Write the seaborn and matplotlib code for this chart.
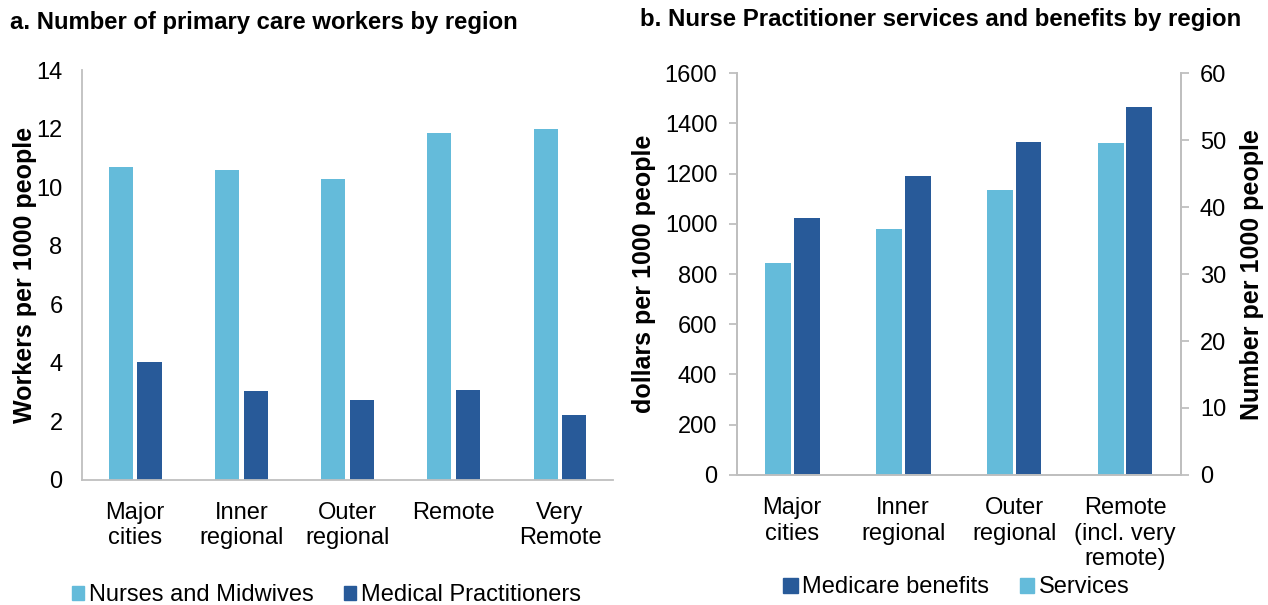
import matplotlib
matplotlib.use("Agg")
import matplotlib.pyplot as plt
import matplotlib.colors as mcolors
import numpy as np
import pandas as pd
import seaborn as sns
from matplotlib.patches import Patch

sns.set_style("white")
plt.rcParams["font.family"] = ["Liberation Sans", "DejaVu Sans"]
plt.rcParams.update({"text.color": "black", "axes.labelcolor": "black",
                     "xtick.color": "black", "ytick.color": "black"})

LIGHT = "#64BBDA"
DARK = "#285A99"
GREY = "#BFBFBF"

# panel a data
regions_a = ["Major\ncities", "Inner\nregional", "Outer\nregional", "Remote", "Very\nRemote"]
nurses = [10.7, 10.6, 10.27, 11.85, 12.0]
medical = [4.03, 3.02, 2.73, 3.08, 2.23]

# panel b data
regions_b = ["Major\ncities", "Inner\nregional", "Outer\nregional", "Remote\n(incl. very\nremote)"]
services = [31.7, 36.75, 42.6, 49.6]          # number per 1000 people (right axis)
benefits = [1025, 1192, 1325, 1467]           # dollars per 1000 people (left axis)

df_a = pd.DataFrame({
    "region": regions_a * 2,
    "value": nurses + medical,
    "series": ["Nurses and Midwives"] * 5 + ["Medical Practitioners"] * 5,
})
df_b = pd.DataFrame({
    "region": regions_b * 2,
    "value": services + benefits,
    "series": ["Services"] * 4 + ["Medicare benefits"] * 4,
})

fig = plt.figure(figsize=(12.68, 6.05), dpi=100)
ax_a = fig.add_axes([0.0647, 0.207, 0.4188, 0.677])
ax_b = fig.add_axes([0.581, 0.215, 0.350, 0.664])
ax_b2 = ax_b.twinx()


def style(ax, spines, xpad=14):
    for s in ["left", "right", "top", "bottom"]:
        ax.spines[s].set_visible(s in spines)
        ax.spines[s].set_color(GREY)
        ax.spines[s].set_linewidth(1.3)
    ax.tick_params(axis="y", which="both", length=6, width=1.3, color=GREY,
                   labelcolor="black", labelsize=17, pad=8)
    ax.tick_params(axis="x", length=0, labelsize=17, pad=xpad, labelcolor="black")
    ax.set_xlabel("")


def hide_bars(ax, color):
    target = mcolors.to_rgba(color)
    for p in ax.patches:
        if np.allclose(p.get_facecolor(), target, atol=0.01):
            p.set_visible(False)


# ---- panel a
sns.barplot(data=df_a, x="region", y="value", hue="series",
            hue_order=["Nurses and Midwives", "Medical Practitioners"],
            palette=[LIGHT, DARK], saturation=1, width=0.54, gap=0.16, linewidth=0,
            legend=False, ax=ax_a)
ax_a.set_ylim(0, 14)
ax_a.set_yticks(np.arange(0, 15, 2))
style(ax_a, ["left", "bottom"], xpad=16)
ax_a.set_ylabel("Workers per 1000 people", fontsize=18, fontweight="bold")
ax_a.yaxis.set_label_coords(-0.085, 0.5)

# ---- panel b (each series drawn on both axes, shown only on its own scale)
order = ["Services", "Medicare benefits"]
pal = {"Services": LIGHT, "Medicare benefits": DARK}
sns.barplot(data=df_b, x="region", y="value", hue="series", hue_order=order,
            palette=pal, saturation=1, width=0.52, gap=0.1, linewidth=0,
            legend=False, ax=ax_b)
hide_bars(ax_b, LIGHT)
sns.barplot(data=df_b, x="region", y="value", hue="series", hue_order=order,
            palette=pal, saturation=1, width=0.52, gap=0.1, linewidth=0,
            legend=False, ax=ax_b2)
hide_bars(ax_b2, DARK)
ax_b.set_ylim(0, 1600)
ax_b.set_yticks(np.arange(0, 1601, 200))
ax_b2.set_ylim(0, 60)
ax_b2.set_yticks(np.arange(0, 61, 10))
style(ax_b, ["left", "bottom", "right"], xpad=16)
style(ax_b2, ["left", "bottom", "right"], xpad=16)
ax_b2.tick_params(axis="y", right=True, left=False, labelright=True, labelleft=False)
ax_b.set_ylabel("dollars per 1000 people", fontsize=18, fontweight="bold")
ax_b.yaxis.set_label_coords(-0.181, 0.5)
ax_b2.set_ylabel("Number per 1000 people", fontsize=18, fontweight="bold")
ax_b2.yaxis.set_label_coords(1.135, 0.5)
ax_b2.set_xlabel("")

# titles
fig.text(0.008, 0.963, "a. Number of primary care workers by region",
         fontsize=17.2, fontweight="bold", ha="left", va="center")
fig.text(0.505, 0.968, "b. Nurse Practitioner services and benefits by region",
         fontsize=17.3, fontweight="bold", ha="left", va="center")

# legends
leg_kw = dict(loc="center", ncol=2, frameon=False, fontsize=17,
              handleheight=0.6, handletextpad=0.2, columnspacing=1.3,
              bbox_transform=fig.transFigure)
ax_a.legend(handles=[Patch(color=LIGHT, label="Nurses and Midwives"),
                     Patch(color=DARK, label="Medical Practitioners")],
            bbox_to_anchor=(0.2575, 0.016), handlelength=0.5, **leg_kw)
ax_b2.legend(handles=[Patch(color=DARK, label="Medicare benefits"),
                      Patch(color=LIGHT, label="Services")],
             bbox_to_anchor=(0.7543, 0.029), handlelength=0.6, **leg_kw)

fig.savefig("out.png", dpi=100)
